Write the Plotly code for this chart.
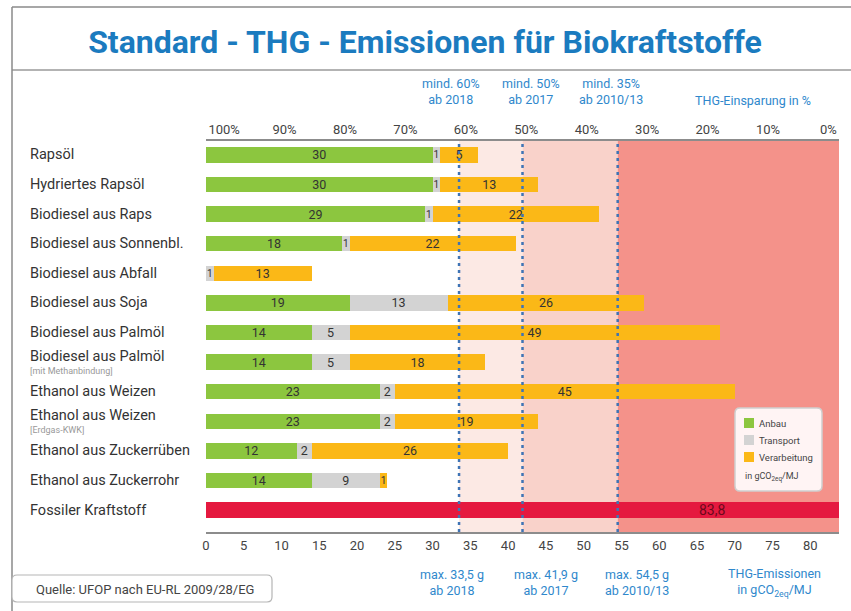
import plotly.graph_objects as go

# ---------------- data ----------------
main_labels = ["Rapsöl", "Hydriertes Rapsöl", "Biodiesel aus Raps", "Biodiesel aus Sonnenbl.",
               "Biodiesel aus Abfall", "Biodiesel aus Soja", "Biodiesel aus Palmöl",
               "Biodiesel aus Palmöl", "Ethanol aus Weizen", "Ethanol aus Weizen",
               "Ethanol aus Zuckerrüben", "Ethanol aus Zuckerrohr", "Fossiler Kraftstoff"]
sub_labels = ["", "", "", "", "", "", "", "[mit Methanbindung]", "", "[Erdgas-KWK]", "", "", ""]
categories = [m + (" " + s if s else "") for m, s in zip(main_labels, sub_labels)]

# biofuel rows (first 12 categories)
anbau        = [30, 30, 29, 18, 0, 19, 14, 14, 23, 23, 12, 14]
transport    = [1, 1, 1, 1, 1, 13, 5, 5, 2, 2, 2, 9]
verarbeitung = [5, 13, 22, 22, 13, 26, 49, 18, 45, 19, 26, 1]
# fossil reference row (last category)
fossil_value = 83.8
fossil_label = "83,8"

series_names = ["Anbau", "Transport", "Verarbeitung"]
thresholds   = [33.5, 41.9, 54.5]
thr_top      = ["mind. 60%<br>ab 2018", "mind. 50%<br>ab 2017", "mind. 35%<br>ab 2010/13"]
thr_bottom   = ["max. 33,5 g<br>ab 2018", "max. 41,9 g<br>ab 2017", "max. 54,5 g<br>ab 2010/13"]
bottom_ticks = list(range(0, 81, 5))
pct_ticks    = [100, 90, 80, 70, 60, 50, 40, 30, 20, 10, 0]

# ---------------- style ----------------
W, H = 851, 611
L, R, T, B = 206, 12, 141, 79
PW, PH = W - L - R, H - T - B
FONT = "Roboto"
BLUE = "#2f88cc"
C_GREEN, C_GRAY, C_ORANGE, C_RED = "#8cc63f", "#d3d3d3", "#fbb817", "#e5193f"
colors = [C_GREEN, C_GRAY, C_ORANGE]
XMAX = fossil_value

def px(x):  # pixel -> paper x
    return (x - L) / PW

def py(y):  # pixel -> paper y
    return (H - B - y) / PH

fig = go.Figure()

bio_cats = categories[:-1]
for name, vals, col in zip(series_names, [anbau, transport, verarbeitung], colors):
    cats = [c for c, v in zip(bio_cats, vals) if v > 0]
    xs = [v for v in vals if v > 0]
    fig.add_trace(go.Bar(
        y=cats, x=xs, name=name, orientation="h", marker_color=col,
        marker_line_width=0, width=0.52,
        text=[str(v) for v in xs], textposition="inside", insidetextanchor="middle",
        constraintext="none", textangle=0,
        textfont=dict(family=FONT, size=[10 if v == 1 else 12.5 for v in xs], color="#333333"),
        hoverinfo="skip", showlegend=False))

fig.add_trace(go.Bar(
    y=[categories[-1]], x=[fossil_value], name="Fossiler Kraftstoff", orientation="h",
    marker_color=C_RED, marker_line_width=0, width=0.52, showlegend=False, hoverinfo="skip"))

# invisible trace to activate the top axis
fig.add_trace(go.Scatter(x=[0, XMAX], y=[categories[0], categories[0]], xaxis="x2",
                         mode="markers", marker_opacity=0, showlegend=False, hoverinfo="skip"))

shapes = []
# zones
zone_cols = ["#fce9e4", "#f9d2ca", "#f4928a"]
zone_edges = thresholds + [XMAX]
for i in range(3):
    shapes.append(dict(type="rect", xref="x", yref="paper", x0=zone_edges[i], x1=zone_edges[i + 1],
                       y0=0, y1=1, fillcolor=zone_cols[i], line_width=0, layer="below"))
# dotted threshold lines
for t in thresholds:
    shapes.append(dict(type="line", xref="x", yref="paper", x0=t, x1=t, y0=0, y1=1,
                       line=dict(color="#3f74b5", width=2.5, dash="3px,4px"), layer="above"))
# frame
shapes.append(dict(type="line", xref="paper", yref="paper", x0=px(12), x1=px(W + 5), y0=py(7), y1=py(7),
                   line=dict(color="#8a8a8a", width=1.5)))
shapes.append(dict(type="line", xref="paper", yref="paper", x0=px(12), x1=px(W + 5), y0=py(70), y1=py(70),
                   line=dict(color="#9a9a9a", width=1.5)))
shapes.append(dict(type="line", xref="paper", yref="paper", x0=px(12), x1=px(12), y0=py(7), y1=py(H + 5),
                   line=dict(color="#8a8a8a", width=1.5)))

def rounded(x0, y0, x1, y1, r):
    return (f"M{px(x0 + r)},{py(y0)} L{px(x1 - r)},{py(y0)} Q{px(x1)},{py(y0)} {px(x1)},{py(y0 + r)} "
            f"L{px(x1)},{py(y1 - r)} Q{px(x1)},{py(y1)} {px(x1 - r)},{py(y1)} "
            f"L{px(x0 + r)},{py(y1)} Q{px(x0)},{py(y1)} {px(x0)},{py(y1 - r)} "
            f"L{px(x0)},{py(y0 + r)} Q{px(x0)},{py(y0)} {px(x0 + r)},{py(y0)} Z")

# legend box
shapes.append(dict(type="path", xref="paper", yref="paper", path=rounded(735, 408, 822, 491, 5),
                   fillcolor="rgba(255,250,250,0.95)", line=dict(color="#cfcfcf", width=1.5)))
# source box
shapes.append(dict(type="path", xref="paper", yref="paper", path=rounded(12, 575, 272, 602, 5),
                   fillcolor="white", line=dict(color="#b5b5b5", width=1.2)))

ann = []
# legend items
for i, (name, col) in enumerate(zip(series_names, colors)):
    yc = 423 + 17 * i
    shapes.append(dict(type="rect", xref="paper", yref="paper", x0=px(744), x1=px(754),
                       y0=py(yc - 5), y1=py(yc + 5), fillcolor=col, line_width=0))
    ann.append(dict(xref="paper", yref="paper", x=px(757), y=py(yc), text=name, showarrow=False,
                    xanchor="left", yanchor="middle", font=dict(family=FONT, size=9.5, color="#444444")))
ann.append(dict(xref="paper", yref="paper", x=px(743), y=py(477), text="in gCO<sub>2eq</sub>/MJ",
                showarrow=False, xanchor="left", yanchor="middle",
                font=dict(family=FONT, size=9, color="#444444")))

# category labels
for cat, m, s in zip(categories, main_labels, sub_labels):
    ann.append(dict(xref="paper", yref="y", x=px(28), y=cat, text=m, showarrow=False,
                    xanchor="left", yanchor="middle", yshift=6 if s else 0,
                    font=dict(family=FONT, size=14.5, color="#333333")))
    if s:
        ann.append(dict(xref="paper", yref="y", x=px(28), y=cat, text=s, showarrow=False,
                        xanchor="left", yanchor="middle", yshift=-9,
                        font=dict(family=FONT, size=9, color="#999999")))
# fossil value label
ann.append(dict(xref="x", yref="y", x=fossil_value * 0.8, y=categories[-1], text=fossil_label,
                showarrow=False, xanchor="center", font=dict(family=FONT, size=14, color="#6a0a1c")))
# threshold annotations
top_cx = [451, 531, 611]
bot_cx = [452, 546, 637]
for top, bot, cx_t, cx_b in zip(thr_top, thr_bottom, top_cx, bot_cx):
    ann.append(dict(xref="paper", yref="paper", x=px(cx_t), y=py(92), text=top, showarrow=False,
                    xanchor="center", yanchor="middle", font=dict(family=FONT, size=12.5, color=BLUE)))
    ann.append(dict(xref="paper", yref="paper", x=px(cx_b), y=py(582), text=bot, showarrow=False,
                    xanchor="center", yanchor="middle", font=dict(family=FONT, size=12.5, color=BLUE)))
ann.append(dict(xref="paper", yref="paper", x=px(753), y=py(100), text="THG-Einsparung in %",
                showarrow=False, xanchor="center", yanchor="middle",
                font=dict(family=FONT, size=12.5, color=BLUE)))
ann.append(dict(xref="paper", yref="paper", x=px(774), y=py(582),
                text="THG-Emissionen<br>in gCO<sub>2eq</sub>/MJ",
                showarrow=False, xanchor="center", yanchor="middle",
                font=dict(family=FONT, size=12.5, color=BLUE)))
# source
ann.append(dict(xref="paper", yref="paper", x=px(145), y=py(589),
                text="Quelle: UFOP nach EU-RL 2009/28/EG",
                showarrow=False, xanchor="center", yanchor="middle",
                font=dict(family=FONT, size=13, color="#444444")))

# top percent axis positions (the original scale is evenly spaced between its end labels)
pct_pos = [2.4 + (100 - p) * 0.8 for p in pct_ticks]

fig.update_layout(
    width=W, height=H, margin=dict(l=L, r=R, t=T, b=B),
    paper_bgcolor="white", plot_bgcolor="rgba(0,0,0,0)",
    barmode="stack", showlegend=False,
    title=dict(text="<b>Standard - THG - Emissionen für Biokraftstoffe</b>",
               x=425 / W, xref="container", xanchor="center", y=1 - 42 / H, yref="container",
               yanchor="middle", font=dict(family=FONT, size=32, color="#1b7bbf")),
    xaxis=dict(range=[0, XMAX], tickvals=bottom_ticks, showgrid=False, zeroline=False,
               showline=True, linecolor="#8c8c8c", linewidth=2, ticks="", ticklen=0,
               tickfont=dict(family=FONT, size=13, color="#444444")),
    xaxis2=dict(range=[0, XMAX], overlaying="x", side="top", tickvals=pct_pos,
                ticktext=[f"{p}%" for p in pct_ticks], showgrid=False, zeroline=False,
                showline=True, linecolor="#8c8c8c", linewidth=2, ticks="",
                tickfont=dict(family=FONT, size=13, color="#444444")),
    yaxis=dict(categoryorder="array", categoryarray=categories, range=[12.74, -0.47],
               showticklabels=False, showgrid=False, zeroline=False, ticks=""),
    shapes=shapes, annotations=ann,
)

fig.write_html("out.html", config={"displayModeBar": False},
               post_script="document.body.style.margin='0';document.body.style.overflow='hidden';")
